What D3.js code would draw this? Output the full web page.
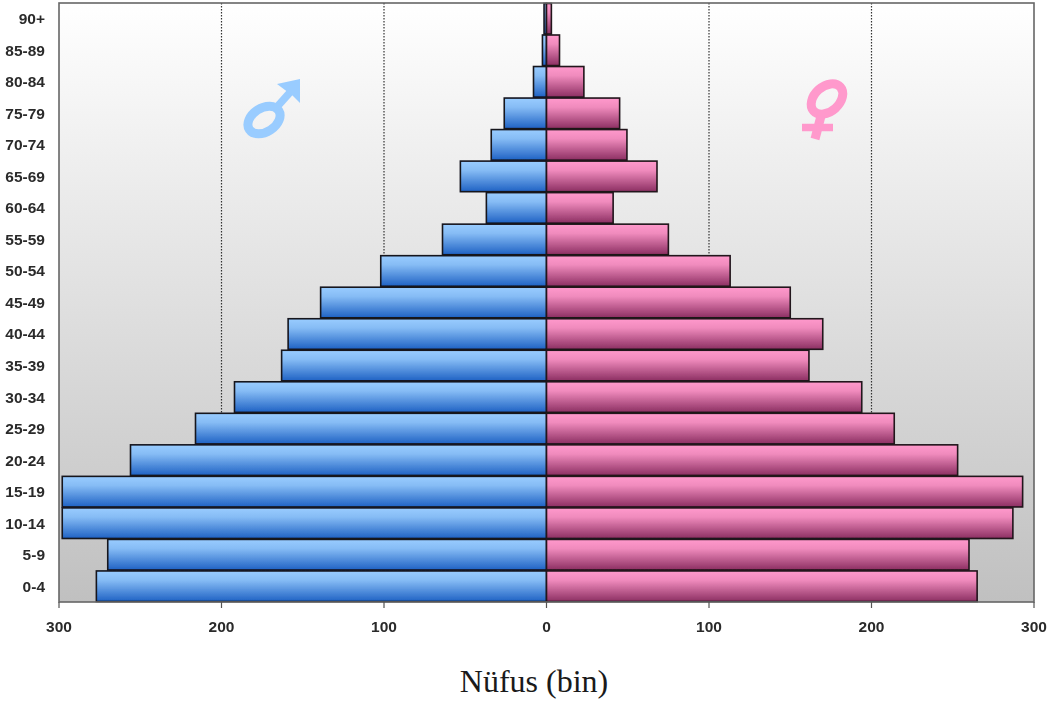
<!DOCTYPE html>
<html>
<head>
<meta charset="utf-8">
<script src="https://d3js.org/d3.v7.min.js"></script>
<style type="text/css">
  html, body { margin:0; padding:0; background:#fff; }
  svg { display:block; }
  .tick-label { font-family:"Liberation Sans", Arial, sans-serif; font-weight:bold; font-size:15.5px; fill:#2a2a2a; }
  .axis-title { font-family:"Liberation Serif", "Times New Roman", serif; font-size:32px; fill:#1a1a1a; }
</style>
</head>
<body>
<svg id="chart" width="1052" height="704"></svg>
<script>
  // data, thousands of people
  var ageGroups = ["90+","85-89","80-84","75-79","70-74","65-69","60-64","55-59","50-54","45-49",
                   "40-44","35-39","30-34","25-29","20-24","15-19","10-14","5-9","0-4"];
  var male   = [1.5,2.5,8,26,34,53,37,64,102,139,159,163,192,216,256,298,298,270,277];
  var female = [3,8,23,45,49.5,68,41,75,113,150,170,161.5,194,214,253,293,287,260,265];
  var xTicks = [-300,-200,-100,0,100,200,300];
  var gridTicks = [-200,-100,100,200];

  var left = 59, right = 1034, top_ = 3, bottom = 602;

  var svg = d3.select("#chart");

  var x = d3.scaleLinear().domain([-300,300]).range([left,right]);
  var y = d3.scaleBand().domain(ageGroups).range([top_,bottom]).paddingInner(0.03).paddingOuter(0.015);

  var defs = svg.append("defs");
  function vGradient(id, stops){
    var g = defs.append("linearGradient").attr("id",id)
      .attr("x1",0).attr("y1",0).attr("x2",0).attr("y2",1);
    stops.forEach(function(s){
      g.append("stop").attr("offset",s[0]).attr("stop-color",s[1]);
    });
  }
  vGradient("bg",[[0,"#ffffff"],[1,"#c0c0c0"]]);
  vGradient("blue",[[0,"#99ccff"],[0.3,"#86bcf5"],[1,"#1f62c4"]]);
  vGradient("pink",[[0,"#ff99cc"],[0.3,"#f08bbd"],[1,"#8c2f62"]]);
  defs.append("filter").attr("id","soft")
    .append("feGaussianBlur").attr("stdDeviation",0.55);

  var root = svg.append("g").attr("filter","url(#soft)");

  // plot background
  root.append("rect")
    .attr("x",left).attr("y",top_)
    .attr("width",right-left).attr("height",bottom-top_)
    .attr("fill","url(#bg)");

  // dotted grid
  root.selectAll(".grid").data(gridTicks).enter().append("line")
    .attr("class","grid")
    .attr("x1",function(d){return x(d);}).attr("x2",function(d){return x(d);})
    .attr("y1",top_).attr("y2",bottom)
    .attr("stroke","#333").attr("stroke-width",1.2).attr("stroke-dasharray","1.5,1.5");

  // gender symbols
  var maleSym = root.append("g").attr("fill","none").attr("stroke","#99ccff");
  maleSym.append("ellipse")
    .attr("cx",264).attr("cy",120).attr("rx",17.5).attr("ry",12)
    .attr("transform","rotate(-33 264 120)").attr("stroke-width",9);
  maleSym.append("line").attr("x1",276).attr("y1",108).attr("x2",293).attr("y2",89).attr("stroke-width",7.5);
  maleSym.append("path").attr("d","M277,84 L300,79 L300,103 L292,95 L285,90 Z").attr("fill","#99ccff").attr("stroke","none");

  var femaleSym = root.append("g").attr("fill","none").attr("stroke","#ff99cc");
  femaleSym.append("ellipse")
    .attr("cx",827).attr("cy",99).attr("rx",18).attr("ry",12.5)
    .attr("transform","rotate(-42 827 99)").attr("stroke-width",9);
  femaleSym.append("line").attr("x1",821).attr("y1",116).attr("x2",815).attr("y2",139).attr("stroke-width",9);
  femaleSym.append("line").attr("x1",802).attr("y1",127.5).attr("x2",833).attr("y2",127.5).attr("stroke-width",7.5);

  // bars
  root.selectAll(".male").data(male).enter().append("rect")
    .attr("class","male")
    .attr("x",function(d){return x(-d);})
    .attr("y",function(d,i){return y(ageGroups[i]);})
    .attr("width",function(d){return x(0)-x(-d);})
    .attr("height",y.bandwidth())
    .attr("fill","url(#blue)").attr("stroke","#14141f").attr("stroke-width",1.6);

  root.selectAll(".female").data(female).enter().append("rect")
    .attr("class","female")
    .attr("x",x(0))
    .attr("y",function(d,i){return y(ageGroups[i]);})
    .attr("width",function(d){return x(d)-x(0);})
    .attr("height",y.bandwidth())
    .attr("fill","url(#pink)").attr("stroke","#20141a").attr("stroke-width",1.6);

  // plot border and ticks
  root.append("rect")
    .attr("x",left).attr("y",top_)
    .attr("width",right-left).attr("height",bottom-top_)
    .attr("fill","none").attr("stroke","#666").attr("stroke-width",1.6);

  root.selectAll(".xtick").data(xTicks).enter().append("line")
    .attr("class","xtick")
    .attr("x1",function(d){return x(d);}).attr("x2",function(d){return x(d);})
    .attr("y1",bottom).attr("y2",bottom+6)
    .attr("stroke","#555").attr("stroke-width",1.2);

  // labels
  root.selectAll(".xlabel").data(xTicks).enter().append("text")
    .attr("class","tick-label xlabel")
    .attr("x",function(d){return x(d);})
    .attr("y",631.5)
    .attr("text-anchor","middle")
    .text(function(d){return Math.abs(d);});

  root.selectAll(".ylabel").data(ageGroups).enter().append("text")
    .attr("class","tick-label ylabel")
    .attr("x",45)
    .attr("y",function(d){return y(d)+y.bandwidth()/2;})
    .attr("dy","0.35em")
    .attr("text-anchor","end")
    .text(function(d){return d;});

  svg.append("text")
    .attr("class","axis-title")
    .attr("x",534).attr("y",692)
    .attr("text-anchor","middle")
    .text("Nüfus (bin)");
</script>
</body>
</html>
